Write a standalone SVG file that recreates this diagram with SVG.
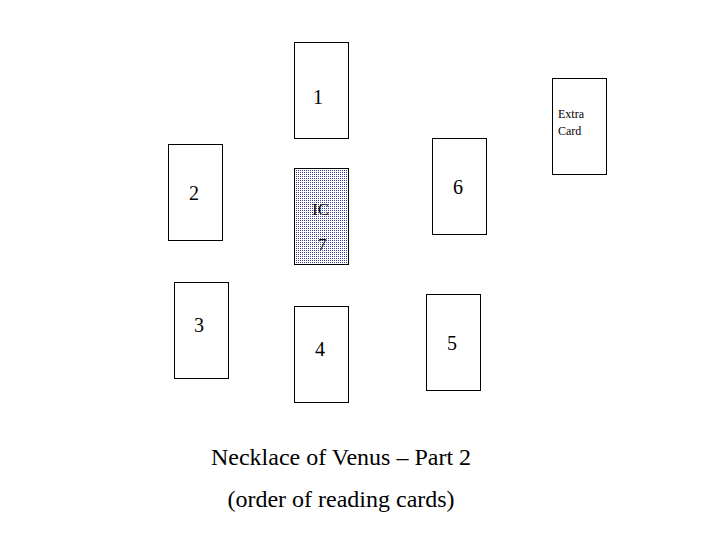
<svg xmlns="http://www.w3.org/2000/svg" width="720" height="540" viewBox="0 0 720 540">
<style>
.card{fill:#fff;stroke:#000;stroke-width:1}
.num{font-family:"Liberation Serif","Times New Roman",serif;font-size:20px;fill:#000}
.small{font-family:"Liberation Serif","Times New Roman",serif;font-size:12px;fill:#000}
.title{font-family:"Liberation Serif","Times New Roman",serif;font-size:24px;fill:#000;text-anchor:middle}
</style>
<defs>
<pattern id="dots" width="2" height="2" patternUnits="userSpaceOnUse">
<rect width="2" height="2" fill="#fff"/>
<rect width="1" height="1" fill="#3c3c8c"/>
</pattern>
</defs>
<rect width="720" height="540" fill="#fff"/>
<g id="card1"><rect class="card" x="294.5" y="42.5" width="54" height="96"/><text class="num" x="313" y="104">1</text></g>
<g id="card2"><rect class="card" x="168.5" y="144.5" width="54" height="96"/><text class="num" x="189" y="200">2</text></g>
<g id="card7"><rect class="card" x="294.5" y="168.5" width="54" height="96" style="fill:url(#dots)"/><text class="num" x="312" y="215" style="font-size:17px">IC</text><text class="num" x="318" y="250" style="font-size:17px">7</text></g>
<g id="card6"><rect class="card" x="432.5" y="138.5" width="54" height="96"/><text class="num" x="453" y="194">6</text></g>
<g id="extra"><rect class="card" x="552.5" y="78.5" width="54" height="96"/><text class="small" x="558" y="118">Extra</text><text class="small" x="558" y="135">Card</text></g>
<g id="card3"><rect class="card" x="174.5" y="282.5" width="54" height="96"/><text class="num" x="194" y="332">3</text></g>
<g id="card4"><rect class="card" x="294.5" y="306.5" width="54" height="96"/><text class="num" x="315" y="356">4</text></g>
<g id="card5"><rect class="card" x="426.5" y="294.5" width="54" height="96"/><text class="num" x="447" y="350">5</text></g>
<g id="connectors"></g>
<g id="caption">
<text class="title" x="341" y="465">Necklace of Venus – Part 2</text>
<text class="title" x="341" y="507">(order of reading cards)</text>
</g>
</svg>
